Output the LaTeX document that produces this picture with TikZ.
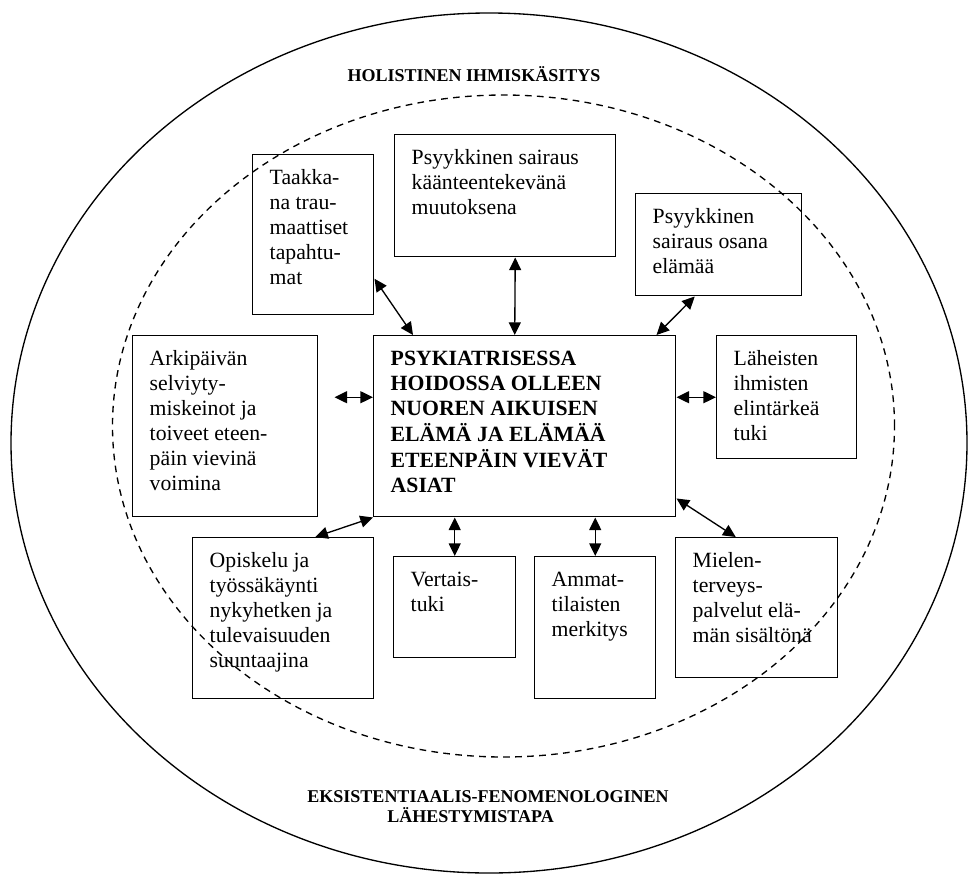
\documentclass[tikz,border=0pt]{standalone}
\usepackage{fontspec}
\setmainfont{Liberation Serif}
\usetikzlibrary{arrows.meta}

\newdimen\px \px=0.75pt
\newcommand{\boxfont}{\fontsize{16.3pt}{18.75pt}\selectfont}
\newcommand{\cell}[3]{\parbox[t][\dimexpr#2\px-19pt\relax][t]{\dimexpr#1\px-25.5pt\relax}{\begin{tabular}[t]{@{}l@{}}#3\end{tabular}}}

\begin{document}
\begin{tikzpicture}[x=0.75pt, y=-0.75pt,
        box/.style={draw, line width=1.1pt, anchor=north west, inner xsep=12.75pt, inner ysep=9.5pt, font=\boxfont},
        link/.style={{Triangle[length=9.5pt,width=9pt]}-{Triangle[length=9.5pt,width=9pt]}, line width=1pt},
        title/.style={font=\bfseries\fontsize{13.5pt}{15pt}\selectfont}]
        \useasboundingbox (0,0) rectangle (968,875);

        % the two circles
        \draw[line width=1pt] (489,443) ellipse [x radius=358.5pt, y radius=322.5pt];
        \draw[line width=1pt, dash pattern=on 5pt off 4pt] (503.5,426) ellipse [x radius=293.25pt, y radius=248.25pt];

        \node[title] (holistinen) at (474,74) {HOLISTINEN IHMISKÄSITYS};
        \node[title, align=left] (lahestymistapa) at (488,807) {EKSISTENTIAALIS-FENOMENOLOGINEN\\\hspace*{60pt}LÄHESTYMISTAPA};

        % boxes
        \node[box] (taakka) at (252,154) {\cell{121}{160}{Taakka-\\na trau-\\maattiset\\tapahtu-\\mat}};
        \node[box] (kaanne) at (394,134) {\cell{221}{122}{Psyykkinen sairaus\\käänteentekevänä\\muutoksena}};
        \node[box] (osana) at (635,193) {\cell{166}{102}{Psyykkinen\\sairaus osana\\elämää}};
        \node[box] (arki) at (132,335) {\cell{185}{181}{Arkipäivän\\selviyty-\\miskeinot ja\\toiveet eteen-\\päin vievinä\\voimina}};
        \node[box, font=\boxfont\bfseries] (centre) at (373,335) {\cell{302}{181}{PSYKIATRISESSA\\HOIDOSSA OLLEEN\\NUOREN AIKUISEN\\ELÄMÄ JA ELÄMÄÄ\\ETEENPÄIN VIEVÄT\\ASIAT}};
        \node[box] (laheiset) at (716,335) {\cell{140}{123}{Läheisten\\ihmisten\\elintärkeä\\tuki}};
        \node[box] (opiskelu) at (192,537) {\cell{181}{161}{Opiskelu ja\\työssäkäynti\\nykyhetken ja\\tulevaisuuden\\suuntaajina}};
        \node[box] (vertais) at (393,556) {\cell{122}{101}{Vertais-\\tuki}};
        \node[box] (ammat) at (534,556) {\cell{121}{142}{Ammat-\\tilaisten\\merkitys}};
        \node[box] (mielen) at (675,537) {\cell{162}{140}{Mielen-\\terveys-\\palvelut elä-\\män sisältönä}};

        % arrows
        \draw[link] ([yshift=-44\px]taakka.east) to ([xshift=40\px]centre.north west);
        \draw[link] ([xshift=10\px]kaanne.south) to ([xshift=-10\px]centre.north);
        \draw[link] ([xshift=-24\px]osana.south) to ([xshift=-20\px]centre.north east);
        \draw[link] ([xshift=16\px,yshift=29\px]arki.east) to ([yshift=29\px]centre.west);
        \draw[link] (laheiset.west) to (centre.east |- laheiset.west);
        \draw[link] ([xshift=32\px]opiskelu.north) to (centre.south west);
        \draw[link] (vertais.north) to (vertais.north |- centre.south);
        \draw[link] (ammat.north) to (ammat.north |- centre.south);
        \draw[link] ([xshift=-21\px]mielen.north) to ([yshift=19\px]centre.south east);
    \end{tikzpicture}
\end{document}
